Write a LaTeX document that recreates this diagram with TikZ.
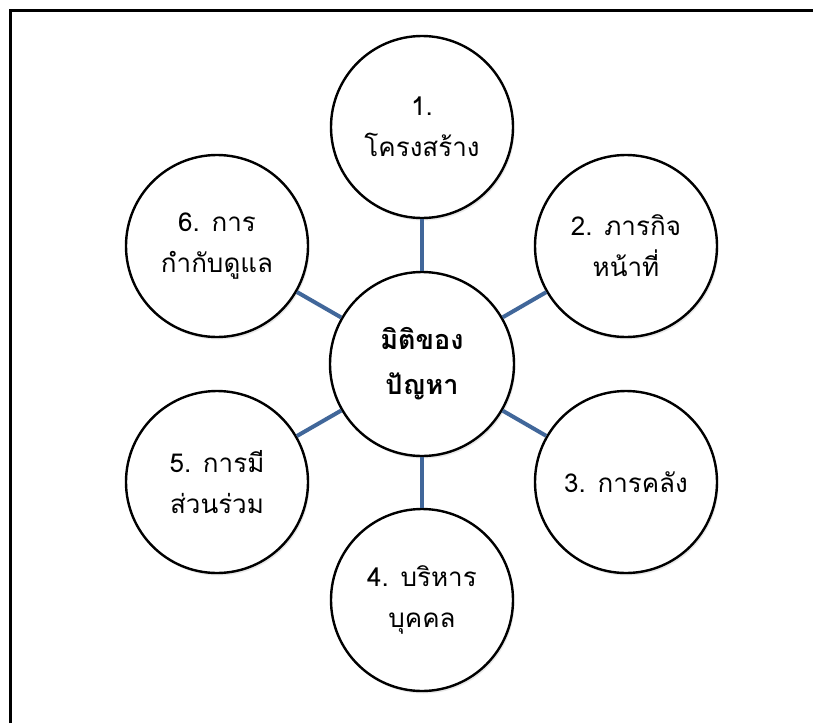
\documentclass[tikz,border=0pt]{standalone}
\usepackage{fontspec}
\newfontfamily\thaifont[Script=Thai]{Loma}
\usetikzlibrary{shadows}
\definecolor{linkblue}{HTML}{41679A}
\tikzset{
  bubble/.style={circle, draw=black, line width=2.4pt, fill=white, minimum size=182pt, inner sep=0pt,
    align=center, font=\thaifont\fontsize{26}{41}\selectfont,
    drop shadow={opacity=0.18, shadow xshift=1.5pt, shadow yshift=-2.5pt}},
  hub/.style={bubble, minimum size=184pt, font=\thaifont\bfseries\fontsize{27}{45}\selectfont},
  link/.style={draw=linkblue, line width=4pt}
}
\begin{document}
\begin{tikzpicture}[x=1pt,y=-1pt]
\useasboundingbox (0,0) rectangle (813,723);
\fill[white] (0,0) rectangle (813,723);
\draw[line width=2.6pt] (10.5,723) -- (10.5,10.5) -- (813,10.5);
\node[hub] (c) at (422,364) {มิติของ\\ปัญหา};
\node[bubble] (n1) at (422,127) {1.\\โครงสร้าง};
\node[bubble] (n2) at (626,246) {2. ภารกิจ\\หน้าที่};
\node[bubble] (n3) at (626,482) {3. การคลัง};
\node[bubble] (n4) at (422,600) {4. บริหาร\\บุคคล};
\node[bubble] (n5) at (217,482) {5. การมี\\ส่วนร่วม};
\node[bubble] (n6) at (217,246) {6. การ\\กำกับดูแล};
\foreach \n in {n1,n2,n3,n4,n5,n6}{
  \draw[link] (c) -- (\n);
}
\end{tikzpicture}
\end{document}
